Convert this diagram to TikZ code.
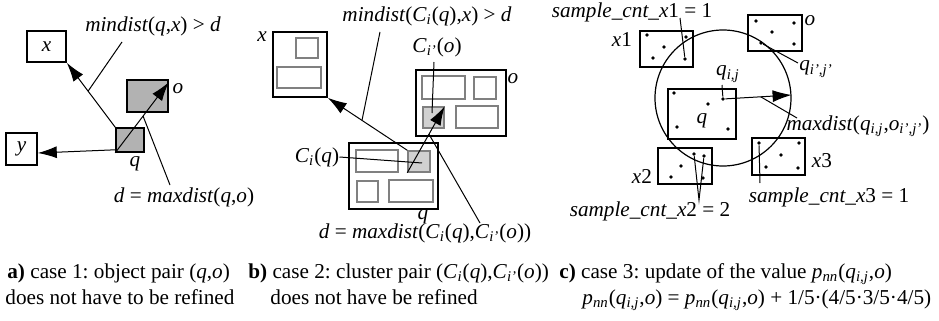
\documentclass[tikz,border=0pt]{standalone}
\usepackage{fontspec}
\setmainfont{Liberation Serif}
\usetikzlibrary{fit,calc,arrows.meta}
\newcommand{\sbi}[1]{\textsubscript{\textit{#1}}}
\frenchspacing
\begin{document}
\begin{tikzpicture}[x=0.5pt,y=-0.5pt,
  font=\fontsize{10.6}{12}\selectfont,
  bx/.style={draw=black,line width=0.8pt,inner sep=0pt},
  gbx/.style={draw=black!50,line width=0.7pt,inner sep=0pt},
  gfill/.style={draw=black,line width=0.8pt,fill=black!30,inner sep=0pt},
  gfill2/.style={draw=black!50,line width=0.7pt,fill=black!18,inner sep=0pt},
  arr/.style={line width=0.5pt,-{Latex[length=9.5pt,width=6pt]}},
  lead/.style={line width=0.5pt},
  dot/.style={circle,fill=black,inner sep=0pt,minimum size=1.9pt},
  lbl/.style={inner sep=0pt}]
\useasboundingbox (0,0) rectangle (939,321);
% ---------- panel a ----------
\node[bx,fit={(27,31)(66,62)}] (ax) {};
\node[lbl] (axl) at (ax.center) {\textit{x}};
\node[bx,fit={(6,133)(37,165)}] (ay) {};
\node[lbl] (ayl) at (ay.center) {\textit{y}};
\node[gfill,fit={(127,80)(168,112)}] (ao) {};
\node[gfill,fit={(116,128)(144,152)}] (aq) {};
\node[lbl] (aol) at (178,89) {\textit{o}};
\node[lbl] (aql) at (135,164) {\textit{q}};
\node[lbl] (am) at (153,26) {\textit{mindist}(\textit{q},\textit{x}) > \textit{d}};
\node[lbl] (ad) at (184,197) {\textit{d} = \textit{maxdist}(\textit{q},\textit{o})};
\draw[arr] (aq.north west) -- (ax.south east);
\draw[arr] ($(aq.south west)+(0,-3)$) -- ($(ay.east)+(0,4)$);
\draw[arr] (aq.south west) -- ($(ao.north east)+(0,3)$);
\draw[lead] (122,42) -- ($(aq.north west)!0.56!(ax.south east)$);
\draw[lead] (170,185) -- ($(aq.south west)!0.52!($(ao.north east)+(0,3)$)$);
% ---------- panel b ----------
\node[bx,fit={(273,32)(327,97)}] (bx) {};
\node[gbx,fit={(296,38)(318,58)}] (bx1) {};
\node[gbx,fit={(277,67)(321,88)}] (bx2) {};
\node[bx,fit={(416,70)(506,136)}] (bo) {};
\node[gbx,fit={(422,76)(465,99)}] (bo1) {};
\node[gbx,fit={(474,77)(496,99)}] (bo2) {};
\node[gfill2,fit={(423,107)(444,128)}] (bco) {};
\node[gbx,fit={(456,106)(498,128)}] (bo4) {};
\node[bx,fit={(349,143)(438,209)}] (bq) {};
\node[gbx,fit={(356,150)(398,172)}] (bq1) {};
\node[gfill2,fit={(408,151)(430,172)}] (bcq) {};
\node[gbx,fit={(357,181)(378,202)}] (bq3) {};
\node[gbx,fit={(389,180)(433,202)}] (bq4) {};
\node[lbl] (bxl) at (262,37) {\textit{x}};
\node[lbl] (bol) at (513,79) {\textit{o}};
\node[lbl] (bql) at (423,217) {\textit{q}};
\node[lbl] (bm) at (427,16) {\textit{mindist}(\textit{C}\sbi{i}(\textit{q}),\textit{x}) > \textit{d}};
\node[lbl] (bcol) at (437,47) {\textit{C}\sbi{i'}(\textit{o})};
\node[lbl] (bcql) at (317,157) {\textit{C}\sbi{i}(\textit{q})};
\node[lbl] (bd) at (425,233) {\textit{d} = \textit{maxdist}(\textit{C}\sbi{i}(\textit{q}),\textit{C}\sbi{i'}(\textit{o}))};
\draw[arr] (bcq.north west) -- (bx.south east);
\draw[arr] (bcq.south west) -- (bco.north east);
\draw[lead] (380,32) -- ($(bcq.north west)!0.57!(bx.south east)$);
\draw[lead] (434,62) -- (432,113);
\draw[lead] (bcql.east) -- (422,163);
\draw[lead] (480,223) -- ($(bcq.south west)!0.58!(bco.north east)$);
% ---------- panel c ----------
\node[circle,draw,line width=0.6pt,minimum size=68pt,inner sep=0pt] (cc) at (723,98) {};
\node[bx,fit={(640,31)(693,67)}] (cx1) {};
\node[bx,fit={(748,15)(802,51)}] (co) {};
\node[bx,fit={(668,89)(736,139)}] (cq) {};
\node[bx,fit={(752,138)(805,175)}] (cx3) {};
\node[bx,fit={(658,148)(712,184)}] (cx2) {};
% dots x1
\node[dot] (x1a) at (647,35) {};
\node[dot] (x1b) at (686,37) {};
\node[dot] (x1c) at (664,47) {};
\node[dot] (x1d) at (653,58) {};
\node[dot] (x1e) at (685,59) {};
% dots o
\node[dot] (oa) at (756,21) {};
\node[dot] (ob) at (794,23) {};
\node[dot] (oc) at (772,32) {};
\node[dot] (od) at (761,43) {};
\node[dot] (oe) at (794,44) {};
% dots q
\node[dot] (qa) at (674,93) {};
\node[dot] (qb) at (708,104) {};
\node[dot] (qc) at (677,127) {};
\node[dot] (qd) at (728,129) {};
\node[dot] (qij) at (723,99) {};
% dots x3
\node[dot] (x3a) at (759,143) {};
\node[dot] (x3b) at (799,143) {};
\node[dot] (x3c) at (781,155) {};
\node[dot] (x3d) at (766,167) {};
\node[dot] (x3e) at (798,168) {};
% dots x2
\node[dot] (x2a) at (694,154) {};
\node[dot] (x2b) at (704,156) {};
\node[dot] (x2c) at (681,166) {};
\node[dot] (x2d) at (671,177) {};
\node[dot] (x2e) at (703,178) {};
% labels
\node[lbl] (cx1l) at (622,40) {\textit{x}1};
\node[lbl] (col) at (810,21) {\textit{o}};
\node[lbl] (cql) at (702,121) {\textit{q}};
\node[lbl] (cx3l) at (822,161) {\textit{x}3};
\node[lbl] (cx2l) at (642,176) {\textit{x}2};
\node[lbl] (cs1) at (632,12) {\textit{sample\_cnt\_x}1 = 1};
\node[lbl] (cqijl) at (728,74) {\textit{q}\sbi{i,j}};
\node[lbl] (cqpl) at (816,69) {\textit{q}\sbi{i',j'}};
\node[lbl] (cmd) at (858,126) {\textit{maxdist}(\textit{q}\sbi{i,j},\textit{o}\sbi{i',j'})};
\node[lbl] (cs3) at (829,197) {\textit{sample\_cnt\_x}3 = 1};
\node[lbl] (cs2) at (650,211) {\textit{sample\_cnt\_x}2 = 2};
\coordinate (s2p) at (699,200);
\coordinate (s3p) at (760,183);
\draw[arr] (qij) -- ($(cc.east)+(0,-3)$);
\draw[lead] (680,18) -- (x1e);
\draw[lead] (798,63) -- (od);
\draw[lead] (722,85) -- (qij);
\draw[lead] (797,118) -- ($(qij)!0.55!($(cc.east)+(0,-3)$)$);
\draw[lead] (x3a) -- (s3p);
\draw[lead] (x2a) -- (s2p) -- (x2b);
% ---------- captions ----------
\node[lbl,anchor=base west] (ca1) at (7,278) {\textbf{a)} case 1: object pair (\textit{q},\textit{o})};
\node[lbl,anchor=base west] (ca2) at (5,304) {does not have to be refined};
\node[lbl,anchor=base west] (cb1) at (248,278) {\textbf{b)} case 2: cluster pair (\textit{C}\sbi{i}(\textit{q}),\textit{C}\sbi{i'}(\textit{o}))};
\node[lbl,anchor=base west] (cb2) at (270,304) {does not have be refined};
\node[lbl,anchor=base west] (cc1) at (559,278) {\textbf{c)} case 3: update of the value \textit{p}\sbi{nn}(\textit{q}\sbi{i,j},\textit{o})};
\node[lbl,anchor=base west] (cc2) at (582,304) {\textit{p}\sbi{nn}(\textit{q}\sbi{i,j},\textit{o}) = \textit{p}\sbi{nn}(\textit{q}\sbi{i,j},\textit{o}) + 1/5·(4/5·3/5·4/5)};
\end{tikzpicture}
\end{document}
